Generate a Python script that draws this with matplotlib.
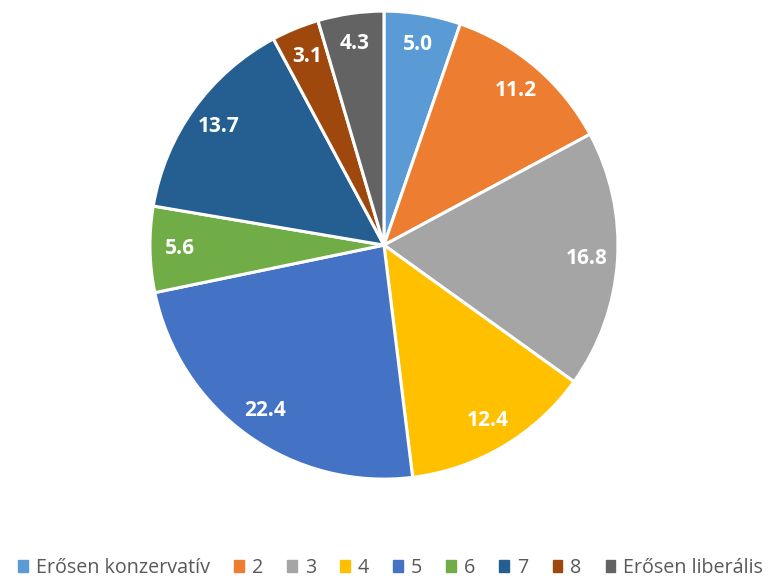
import numpy as np
import matplotlib.pyplot as plt

categories = ['Erősen konzervatív', '2', '3', '4', '5', '6', '7', '8', 'Erősen liberális']
values = [5.0, 11.2, 16.8, 12.4, 22.4, 5.6, 13.7, 3.1, 4.3]
colors = ['#5B9BD5', '#ED7D31', '#A5A5A5', '#FFC000', '#4472C4',
          '#70AD47', '#255E91', '#9E480E', '#636363']

plt.rcParams['font.family'] = ['Open Sans', 'DejaVu Sans']

fig = plt.figure(figsize=(7.69, 5.85), dpi=100)
ax = fig.add_axes([0.195, 0.181, 0.6086, 0.8])

wedges, texts, autotexts = ax.pie(values, colors=colors, startangle=90, counterclock=False,
                                  autopct=lambda p: '', pctdistance=0.87,
                                  wedgeprops=dict(edgecolor='white', linewidth=2.2))
# labels show the raw values, not percentages
for t, v in zip(autotexts, values):
    t.set_text('%.1f' % v)
    t.set_color('white')
    t.set_fontweight('bold')
    t.set_fontsize(15)
ax.set_xlim(-1, 1)
ax.set_ylim(-1, 1)
ax.set_aspect('equal')

handles = [plt.Rectangle((0, 0), 1, 1, color=c) for c in colors]
leg = fig.legend(handles, categories, loc='center', bbox_to_anchor=(0.508, 0.029), ncol=9,
                 frameon=False, handlelength=0.5, handleheight=0.5, handletextpad=0.4,
                 columnspacing=1.22, fontsize=14.2, labelcolor='#595959')

fig.savefig('out.png', dpi=100)
